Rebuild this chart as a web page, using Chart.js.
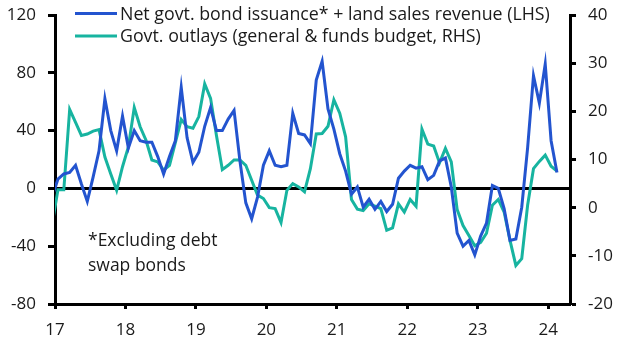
<!DOCTYPE html>
<html lang="en">
<head>
<meta charset="UTF-8">
<script src="https://cdn.jsdelivr.net/npm/chart.js@4.4.1/dist/chart.umd.min.js"></script>
<style>
  body { margin: 0; background: #fff; }
  canvas { display: block; }
</style>
<title>Bond issuance vs govt outlays</title>
</head>
<body>
<canvas id="chart" width="629" height="351"></canvas>
<script>
// monthly, Dec 2016 .. Feb 2024 (first point sits just left of the axis and gets clipped)
const startYear = 2016, startMonth = 12;
const netIssuance = [-6, 6.5, 10, 11, 16, 3, -9, 8, 26, 62, 40,
  26, 50, 28, 40, 33, 32, 32, 22, 10, 22,
  33, 70, 35, 18, 25, 43, 56, 40, 40, 48,
  54, 19, -10, -21, -6, 16, 26, 16, 15, 16,
  52, 38, 37, 31, 75, 88, 55, 41, 24, 12,
  -4, 1, -13, -7.5, -14.5, -9, -16, -11, 7, 12,
  16, 14, 15, 6, 9, 19, 21, 1, -31, -40,
  -36, -46, -33, -24, 2, 0, -14, -36, -35, -13,
  28, 78, 59, 86, 33, 11];
const govOutlays = [-3.5, 3.7, 3.7, 20.4, 17.7, 15, 15.3, 15.9, 16.2, 10.5, 7,
  3.6, 8.5, 12.6, 20.8, 16.8, 14, 9.9, 9.5, 7.8, 8.8,
  13.5, 18.3, 16.8, 16.5, 18.9, 25.7, 22.7, 15, 7.9, 8.8,
  9.9, 9.9, 8.8, 5.7, 2.6, 1.9, 0, -0.2, -3.1, 3.6,
  5, 4.3, 3.3, 8.1, 15.3, 15.4, 16.9, 22.4, 19.6, 14.7,
  1.7, -0.3, -0.6, 0.8, 0.3, -0.2, -4.7, -4.2, 0.8, -0.9,
  1.7, 0.3, 16.3, 13.2, 12.8, 9.3, 12.3, 9.5, -0.4, -3.7,
  -5.8, -7.9, -7.2, -5.3, 0.5, 1.7, -0.9, -6.8, -12, -10.6,
  0.5, 8.1, 9.6, 10.9, 8.6, 7.6];
const xTicks = [17, 18, 19, 20, 21, 22, 23, 24];
const leftTicks = [-80, -40, 0, 40, 80, 120];
const rightTicks = [-20, -10, 0, 10, 20, 30, 40];
const seriesLabels = ['Net govt. bond issuance* + land sales revenue (LHS)',
                      'Govt. outlays (general & funds budget, RHS)'];
const noteLines = ['*Excluding debt', 'swap bonds'];

const BLUE = '#2354cf', TEAL = '#17b4a0', INK = '#1a1a1a';
const FONT = '"Open Sans", "Noto Sans", sans-serif';

// month position on the year axis (two-digit year, mid-month)
const xPos = netIssuance.map((_, i) => {
  const m = startMonth - 1 + i;
  return (startYear + Math.floor(m / 12)) - 2000 + ((m % 12) + 0.5) / 12;
});
const toXY = arr => arr.map((v, i) => ({ x: xPos[i], y: v }));

const overlay = {
  id: 'overlay',
  afterDraw(chart) {
    const ctx = chart.ctx;
    ctx.save();
    ctx.font = '17.8px ' + FONT;
    ctx.fillStyle = INK;
    ctx.textBaseline = 'alphabetic';
    chart.data.datasets.forEach((ds, i) => {
      const y = 13.5 + i * 22.5;
      ctx.strokeStyle = ds.borderColor;
      ctx.lineWidth = 3;
      ctx.beginPath();
      ctx.moveTo(75, y);
      ctx.lineTo(117, y);
      ctx.stroke();
      ctx.fillText(ds.label, 120, y + 6);
    });
    ctx.font = '17.5px ' + FONT;
    noteLines.forEach((t, i) => ctx.fillText(t, 88, 246 + i * 24.5));
    ctx.restore();
  }
};

const tickFont = { family: FONT, size: 17 };
const noPadY = s => { s.paddingTop = 0; s.paddingBottom = 0; };

new Chart(document.getElementById('chart'), {
  type: 'line',
  data: {
    datasets: [
      { label: seriesLabels[0], data: toXY(netIssuance), yAxisID: 'yL',
        borderColor: BLUE, borderWidth: 3, pointRadius: 0, tension: 0, clip: 0 },
      { label: seriesLabels[1], data: toXY(govOutlays), yAxisID: 'yR',
        borderColor: TEAL, borderWidth: 3, pointRadius: 0, tension: 0, clip: 0 }
    ]
  },
  options: {
    responsive: false,
    animation: false,
    devicePixelRatio: 1,
    layout: { padding: { top: 15, left: 0, right: 0, bottom: 0 } },
    plugins: { legend: { display: false }, tooltip: { enabled: false } },
    scales: {
      x: {
        type: 'linear', min: 17, max: 24.31,
        afterFit: s => { s.height = 47; s.paddingLeft = 0; s.paddingRight = 0; },
        afterBuildTicks: s => { s.ticks = xTicks.map(v => ({ value: v })); },
        ticks: { color: INK, font: tickFont, padding: 11, maxRotation: 0 },
        grid: { drawOnChartArea: false, tickLength: 5, tickWidth: 3, tickColor: '#000' },
        border: { display: true, width: 3, color: '#000' }
      },
      yL: {
        position: 'left', min: -80, max: 120,
        afterFit: s => { s.width = 55; noPadY(s); },
        afterBuildTicks: s => { s.ticks = leftTicks.map(v => ({ value: v })); },
        ticks: { color: INK, font: tickFont, padding: 12 },
        grid: {
          color: c => c.tick && c.tick.value === 0 ? '#000' : 'rgba(0,0,0,0)',
          lineWidth: 3, tickLength: 7, tickWidth: 3, tickColor: '#000'
        },
        border: { display: true, width: 3, color: '#000' }
      },
      yR: {
        position: 'right', min: -20, max: 40,
        afterFit: s => { s.width = 59; noPadY(s); },
        afterBuildTicks: s => { s.ticks = rightTicks.map(v => ({ value: v })); },
        ticks: { color: INK, font: tickFont, padding: 12 },
        grid: { drawOnChartArea: false, tickLength: 6, tickWidth: 3, tickColor: '#000' },
        border: { display: true, width: 3, color: '#000' }
      }
    }
  },
  plugins: [overlay]
});
</script>
</body>
</html>
